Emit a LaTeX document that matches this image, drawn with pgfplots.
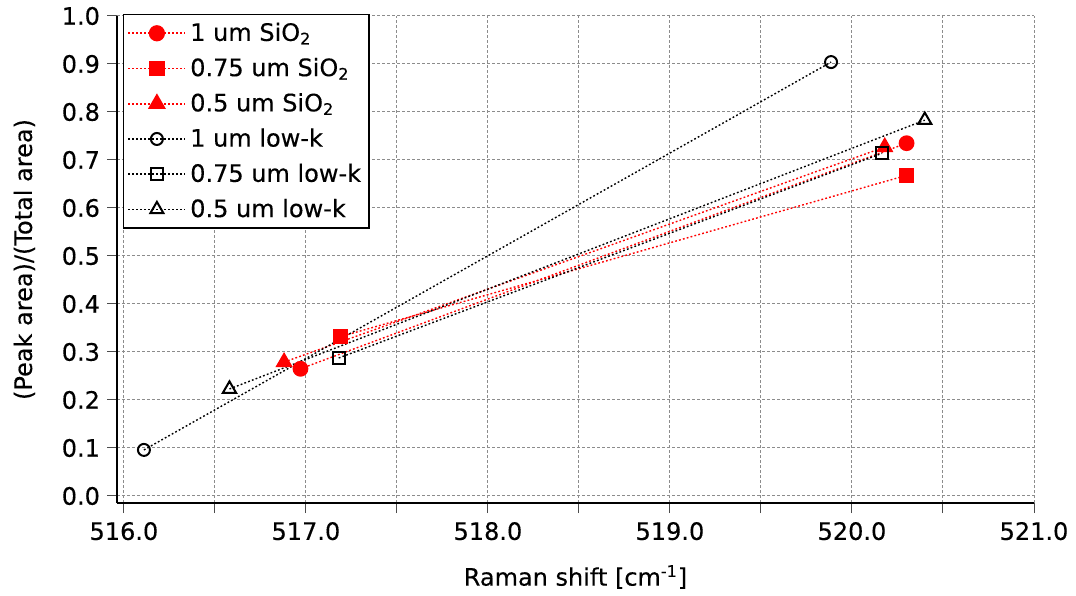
\documentclass[border=0pt]{standalone}
\usepackage{fontspec}
\setmainfont{DejaVu Sans}[FakeBold=0.3]
\usepackage{pgfplots}
\pgfplotsset{compat=1.18}

\definecolor{ptred}{RGB}{255,0,0}
\tikzset{dotline/.style={line width=0.7pt, dash pattern=on 0.9pt off 1.1pt}}

\begin{document}
\begin{tikzpicture}[font=\fontsize{12}{14}\selectfont]
\useasboundingbox (-58.5pt,-46pt) rectangle (479.5pt,251.5pt);
\begin{axis}[
    scale only axis, width=458.5pt, height=243.5pt,
    xmin=515.962, xmax=521, ymin=-0.0146, ymax=1.0,
    axis x line*=bottom, axis y line*=left,
    axis line style={line width=0.6pt, -},
    xtick={516,517,...,521}, minor x tick num=1,
    ytick={0,0.1,...,1.0},
    tick align=outside, major tick length=5pt, minor tick length=5pt,
    tick style={line width=0.5pt, black!70},
    grid=both,
    major grid style={gray!90, line width=0.5pt, dash pattern=on 1.5pt off 1pt},
    minor grid style={gray!90, line width=0.5pt, dash pattern=on 1.5pt off 1pt},
    /pgf/number format/fixed,
    /pgf/number format/fixed zerofill,
    /pgf/number format/precision=1,
    /pgf/number format/assume math mode=true,
    xticklabel style={yshift=-1pt},
    xlabel={Raman shift [cm\textsuperscript{-1}]},
    ylabel={(Peak area)/(Total area)},
    xlabel style={at={(axis description cs:0.5,-0.152)}, anchor=center},
    ylabel style={at={(axis description cs:-0.101,0.5)}, anchor=center},
    legend style={at={(axis description cs:0.0065,1.004)}, anchor=north west,
        line width=0.6pt, fill=white, inner sep=2pt,
        row sep=3pt, font=\fontsize{12}{14}\selectfont},
    legend cell align=left,
    legend image code/.code={
        \draw[mark repeat=2, mark phase=2, #1, line width=0.9pt, dash pattern=on 1pt off 1pt]
          plot coordinates {(0cm,0cm) (0.5cm,0cm) (1cm,0cm)};
    },
  ]
  \addplot[color=ptred, draw=ptred, dotline, mark=*, mark size=3.6pt, mark options={solid, fill=ptred, draw=ptred}]
    coordinates {(516.97,0.265) (520.30,0.735)};
  \addlegendentry{1 um SiO\textsubscript{2}}
  \addplot[color=ptred, draw=ptred, dotline, mark=square*, mark size=3.4pt, mark options={solid, fill=ptred, draw=ptred}]
    coordinates {(517.19,0.332) (520.30,0.668)};
  \addlegendentry{0.75 um SiO\textsubscript{2}}
  \addplot[color=ptred, draw=ptred, dotline, mark=triangle*, mark size=4.3pt, mark options={solid, fill=ptred, draw=ptred}]
    coordinates {(516.88,0.279) (520.18,0.727)};
  \addlegendentry{0.5 um SiO\textsubscript{2}}
  \addplot[black, dotline, mark=o, mark size=3.0pt, mark options={solid, line width=1pt}]
    coordinates {(516.11,0.096) (519.885,0.904)};
  \addlegendentry{1 um low-k}
  \addplot[black, dotline, mark=square, mark size=3.0pt, mark options={solid, line width=1pt}]
    coordinates {(517.18,0.2875) (520.165,0.714)};
  \addlegendentry{0.75 um low-k}
  \addplot[black, dotline, mark=triangle, mark size=3.8pt, mark options={solid, line width=1pt}]
    coordinates {(516.58,0.223) (520.40,0.783)};
  \addlegendentry{0.5 um low-k}
\end{axis}
\end{tikzpicture}
\end{document}
